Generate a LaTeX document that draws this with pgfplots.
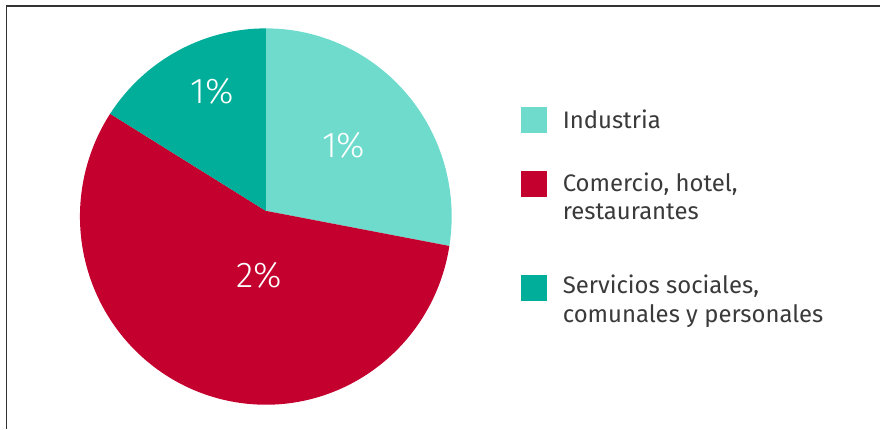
\documentclass[border=0pt]{standalone}
\usepackage{fontspec}
\setmainfont{Fira Sans}
\newfontfamily\lightfont{Fira Sans Light}
\usepackage{pgfplots}
\usepackage{pgfplotstable}
\usetikzlibrary{calc}
\pgfplotsset{compat=1.18}
\definecolor{cInd}{HTML}{6EDBCC}
\definecolor{cCom}{HTML}{C4002F}
\definecolor{cSer}{HTML}{00AE99}
\definecolor{txt}{HTML}{3A3A3A}
\definecolor{frame}{HTML}{333333}

\pgfplotstableread{
name value
Industria 27.5
Comercio 56.7
Servicios 15.8
}\piedata

\pgfplotstablegetelem{0}{value}\of\piedata \let\vA\pgfplotsretval
\pgfplotstablegetelem{1}{value}\of\piedata \let\vB\pgfplotsretval
\pgfplotstablegetelem{2}{value}\of\piedata \let\vC\pgfplotsretval
\pgfmathsetmacro\aA{90-3.6*\vA}
\pgfmathsetmacro\aB{\aA-3.6*\vB}
\pgfmathsetmacro\aC{\aB-3.6*\vC}

\begin{document}
\begin{tikzpicture}
\begin{axis}[scale only axis, width=881bp, height=429bp,
  xmin=0, xmax=881, ymin=0, ymax=429, hide axis, clip=false]
\path (axis cs:0,0) rectangle (axis cs:881,429);
% frame (left and top)
\draw[frame, line width=1.3bp] (axis cs:6.5,0) -- (axis cs:6.5,423) -- (axis cs:881,423);
% pie slices
\coordinate (C) at (axis cs:266,212.3);
\coordinate (V) at (axis cs:266,218);
\fill[cInd] (V) -- ($(C)+(90:186bp and 188.3bp)$) arc[start angle=90, end angle=\aA, x radius=186bp, y radius=188.3bp] -- cycle;
\fill[cCom] (V) -- ($(C)+(\aA:186bp and 188.3bp)$) arc[start angle=\aA, end angle=\aB, x radius=186bp, y radius=188.3bp] -- cycle;
\fill[cSer] (V) -- ($(C)+(\aB:186bp and 188.3bp)$) arc[start angle=\aB, end angle=\aC, x radius=186bp, y radius=188.3bp] -- cycle;
% slice labels
\node[white, font=\lightfont\fontsize{36}{36}\selectfont] at (axis cs:344,284) {1\%};
\node[white, font=\lightfont\fontsize{36}{36}\selectfont] at (axis cs:259.5,153) {2\%};
\node[white, font=\lightfont\fontsize{36}{36}\selectfont] at (axis cs:212.5,338) {1\%};
% legend
\fill[cInd] (axis cs:521,322) rectangle (axis cs:547,296);
\fill[cCom] (axis cs:521,258) rectangle (axis cs:547,232);
\fill[cSer] (axis cs:521,154) rectangle (axis cs:547,128);
\begin{scope}[every node/.style={txt, anchor=base west, inner sep=0pt, font=\fontsize{24}{28}\selectfont}]
\node at (axis cs:563,300.7) {Industria};
\node at (axis cs:563,237.3) {Comercio, hotel,};
\node at (axis cs:563,209) {restaurantes};
\node at (axis cs:563,135) {Servicios sociales,};
\node at (axis cs:563,106) {comunales y personales};
\end{scope}
\end{axis}
\end{tikzpicture}
\end{document}
